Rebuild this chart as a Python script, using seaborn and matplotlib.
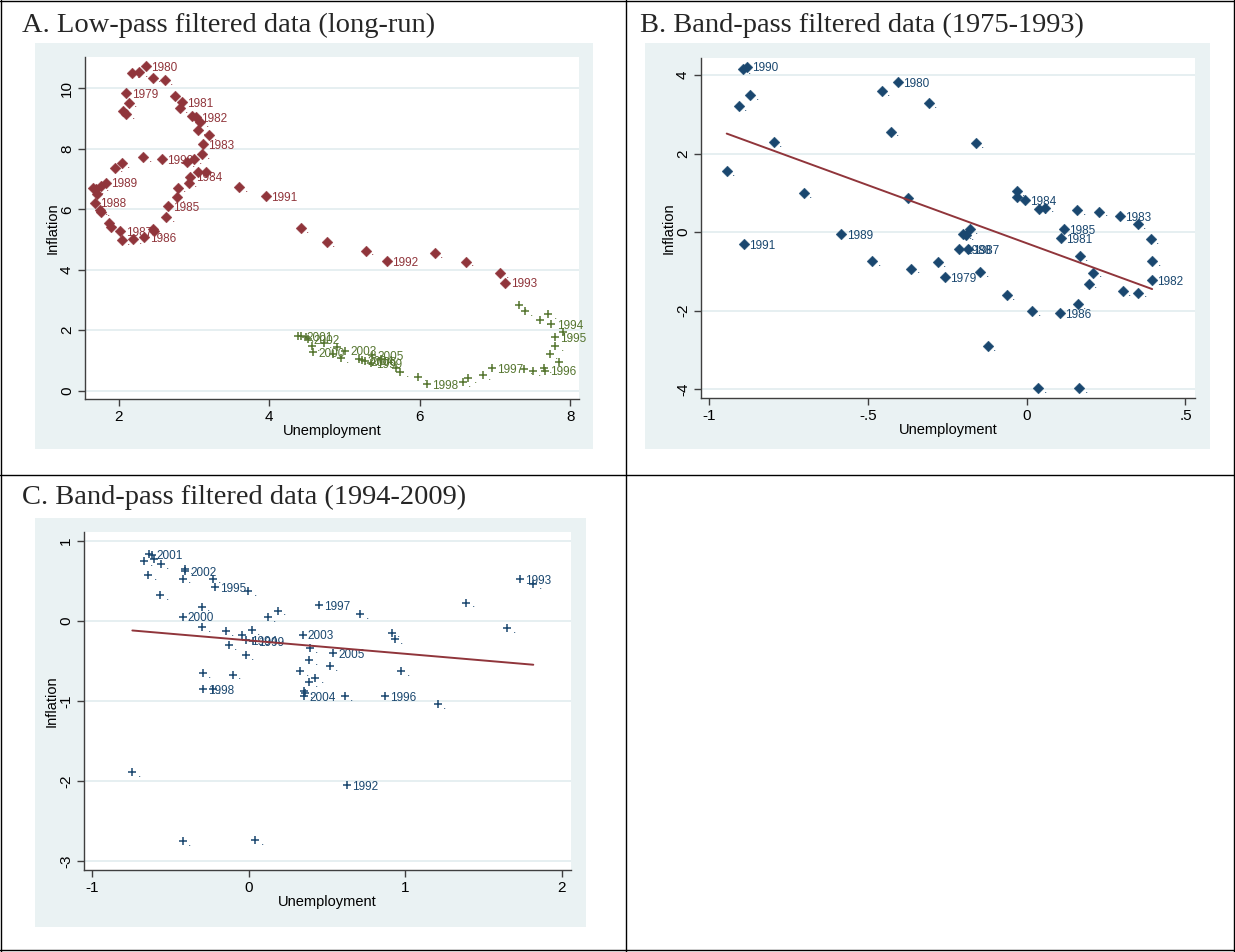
import matplotlib
matplotlib.use("Agg")
import matplotlib.pyplot as plt
from matplotlib.patches import Rectangle
from matplotlib.lines import Line2D
import seaborn as sns

sns.set_theme(style="white")
plt.rcParams["font.family"] = ["Liberation Sans", "DejaVu Sans"]

MAROON = "#90353B"
GREEN = "#55752F"
NAVY = "#1A476F"
BG = "#EAF2F3"
GRID = "#E4EEF0"
AXIS = "#3F3F3F"

# ---------------- Panel A: low-pass filtered data ----------------
# 1979-1993 (diamonds)
a1_unemp = [2.175, 2.276, 2.361, 2.458, 2.618, 2.104, 2.135, 2.06, 2.104, 2.746,
            2.843, 2.817, 2.98, 3.03, 3.086, 3.05, 3.20, 3.12, 3.11, 3.0,
            2.906, 2.58, 2.33, 2.046, 1.95, 3.05, 3.16, 2.954, 2.93, 2.79,
            2.777, 2.653, 2.635, 3.604, 3.955, 4.42, 4.77, 5.283, 5.56, 6.203,
            6.615, 7.07, 7.137, 1.83, 1.764, 1.70, 1.665, 1.71, 1.688, 1.754,
            1.77, 1.87, 1.896, 2.024, 2.046, 2.197, 2.343, 2.462, 2.467]
a1_infl = [10.51, 10.54, 10.74, 10.36, 10.27, 9.84, 9.53, 9.25, 9.15, 9.75,
           9.54, 9.34, 9.10, 9.06, 8.88, 8.63, 8.46, 8.16, 7.82, 7.66,
           7.56, 7.67, 7.72, 7.54, 7.38, 7.25, 7.25, 7.08, 6.88, 6.72,
           6.40, 6.11, 5.75, 6.74, 6.44, 5.39, 4.91, 4.63, 4.29, 4.55,
           4.27, 3.90, 3.57, 6.88, 6.78, 6.68, 6.70, 6.51, 6.22, 5.98,
           5.92, 5.56, 5.42, 5.29, 4.98, 5.01, 5.09, 5.35, 5.28]
a1_label = [".", ".", "1980", ".", ".", "1979", ".", ".", ".", ".",
            "1981", ".", ".", "1982", ".", ".", ".", "1983", ".", ".",
            ".", "1990", ".", ".", ".", ".", ".", "1984", ".", ".",
            ".", "1985", ".", ".", "1991", ".", ".", ".", "1992", ".",
            ".", ".", "1993", "1989", ".", ".", ".", ".", "1988", ".",
            ".", ".", ".", "1987", ".", ".", "1986", ".", "."]

# 1994-2009 (plus signs)
a2_unemp = [7.32, 7.40, 7.60, 7.71, 7.75, 7.91, 7.80, 7.80, 7.73, 7.85,
            7.66, 7.65, 7.50, 7.39, 6.956, 6.837, 6.645, 6.575, 6.10, 5.98,
            5.74, 5.68, 5.48, 5.35, 5.37, 5.28, 5.23, 5.19, 5.01, 4.95,
            4.90, 4.85, 4.73, 4.587, 4.566, 4.52, 4.486, 4.424, 4.38]
a2_infl = [2.82, 2.64, 2.33, 2.54, 2.20, 1.93, 1.76, 1.46, 1.20, 0.94,
           0.66, 0.74, 0.65, 0.72, 0.745, 0.51, 0.40, 0.29, 0.21, 0.46,
           0.60, 0.75, 1.03, 0.90, 1.18, 0.98, 1.00, 1.03, 1.32, 1.07,
           1.45, 1.20, 1.56, 1.28, 1.47, 1.70, 1.76, 1.79, 1.80]
a2_label = [".", ".", ".", ".", "1994", ".", "1995", ".", ".", ".",
            "1996", ".", ".", ".", "1997", ".", ".", ".", "1998", ".",
            ".", ".", ".", "1999", "2005", "2006", "2004", ".", "2003", ".",
            ".", ".", ".", "2000", ".", "2002", ".", "2001", "."]

# ---------------- Panel B: band-pass, 1975-1993 ----------------
b_unemp = [-0.895, -0.881, -0.871, -0.907, -0.797, -0.945, -0.702, -0.584, -0.892, -0.456,
           -0.405, -0.428, -0.308, -0.374, -0.486, -0.364, -0.281, -0.259, -0.16, -0.032,
           -0.032, -0.005, 0.038, 0.059, 0.159, 0.228, 0.293, 0.349, 0.391, 0.395,
           0.394, 0.303, 0.352, 0.118, 0.108, 0.168, 0.21, 0.196, 0.16, 0.104,
           0.018, -0.062, -0.146, -0.2, -0.192, -0.18, -0.212, -0.185, 0.036, 0.165,
           -0.122]
b_infl = [4.15, 4.21, 3.49, 3.20, 2.29, 1.56, 1.00, -0.05, -0.30, 3.59,
          3.81, 2.56, 3.29, 0.87, -0.74, -0.93, -0.77, -1.14, 2.26, 1.05,
          0.89, 0.81, 0.585, 0.626, 0.56, 0.52, 0.41, 0.20, -0.17, -0.74,
          -1.22, -1.50, -1.54, 0.075, -0.145, -0.60, -1.03, -1.31, -1.83, -2.07,
          -2.00, -1.60, -1.02, -0.04, -0.08, 0.08, -0.44, -0.44, -3.96, -3.96,
          -2.90]
b_label = [".", "1990", ".", ".", ".", ".", ".", "1989", "1991", ".",
           "1980", ".", ".", ".", ".", ".", ".", "1979", ".", ".",
           ".", "1984", ".", ".", ".", ".", "1983", ".", ".", ".",
           "1982", ".", ".", "1985", "1981", ".", ".", ".", ".", "1986",
           ".", ".", ".", ".", ".", ".", "1988", "1987", ".", ".",
           "."]

# ---------------- Panel C: band-pass, 1994-2009 ----------------
c_unemp = [-0.669, -0.637, -0.622, -0.607, -0.564, -0.643, -0.567, -0.409, -0.409, -0.424,
           -0.23, -0.217, -0.004, -0.302, -0.424, -0.298, -0.149, -0.13, -0.045, -0.021,
           0.017, -0.02, 0.024, 0.12, 0.185, -0.294, -0.102, -0.296, -0.232, 0.343,
           0.39, 0.385, 0.328, 0.385, 0.424, 0.353, 0.358, 0.353, 0.447, 0.711,
           0.518, 0.539, 0.613, 0.871, 0.914, 0.933, 0.973, 1.208, 1.389, 1.651,
           1.732, 1.817, -0.745, -0.424, 0.04, 0.628]
c_infl = [0.754, 0.84, 0.83, 0.775, 0.71, 0.57, 0.325, 0.65, 0.62, 0.53,
          0.53, 0.425, 0.37, 0.18, 0.055, -0.075, -0.125, -0.30, -0.175, -0.43,
          -0.11, -0.24, -0.25, 0.046, 0.13, -0.65, -0.67, -0.85, -0.85, -0.17,
          -0.34, -0.49, -0.625, -0.76, -0.71, -0.87, -0.90, -0.94, 0.20, 0.083,
          -0.56, -0.40, -0.94, -0.94, -0.145, -0.23, -0.625, -1.04, 0.23, -0.09,
          0.525, 0.46, -1.89, -2.75, -2.74, -2.05]
c_label = [".", ".", "2001", ".", ".", ".", ".", ".", "2002", ".",
           ".", "1995", ".", ".", "2000", ".", ".", ".", ".", ".",
           ".", "1994", "1999", ".", ".", ".", ".", "1998", ".", "2003",
           ".", ".", ".", ".", ".", ".", ".", "2004", "1997", ".",
           ".", "2005", ".", "1996", ".", ".", ".", ".", ".", ".",
           "1993", ".", ".", ".", ".", "1992"]

W, H = 1235, 952
fig = plt.figure(figsize=(W / 100, H / 100), dpi=100)
fig.patch.set_facecolor("white")


def px_rect(x0, y0, x1, y1):
    return [x0 / W, 1 - y1 / H, (x1 - x0) / W, (y1 - y0) / H]


# graph-region backgrounds
for x0, y0, x1, y1 in [(35, 43, 593, 449), (645, 43, 1210, 449), (35, 518, 586, 927)]:
    l, b, w, h = px_rect(x0, y0, x1, y1)
    fig.add_artist(Rectangle((l, b), w, h, transform=fig.transFigure,
                             facecolor=BG, edgecolor="none", zorder=-5))

axA = fig.add_axes(px_rect(85, 57, 579, 399))
axB = fig.add_axes(px_rect(701, 58, 1195, 398))
axC = fig.add_axes(px_rect(84, 532, 571, 870))


def label_points(ax, xs, ys, labels, color):
    for x, y, t in zip(xs, ys, labels):
        ax.annotate(t, (x, y), xytext=(3.8, -1.3), textcoords="offset points",
                    fontsize=8.5, color=color, ha="left", va="center", zorder=3)


def style(ax, xlim, ylim, xt, xtl, yt, ytl):
    ax.set_facecolor("white")
    ax.set_xlim(*xlim)
    ax.set_ylim(*ylim)
    ax.set_xticks(xt)
    ax.set_xticklabels(xtl)
    ax.set_yticks(yt)
    ax.set_yticklabels(ytl, rotation=90, va="center")
    ax.yaxis.grid(True, color=GRID, linewidth=1.3)
    ax.xaxis.grid(False)
    ax.set_axisbelow(True)
    for s in ["top", "right"]:
        ax.spines[s].set_visible(False)
    for s in ["left", "bottom"]:
        ax.spines[s].set_color(AXIS)
        ax.spines[s].set_linewidth(1.0)
    ax.tick_params(axis="both", direction="out", length=5, width=1.0,
                   color=AXIS, labelsize=11, labelcolor="black",
                   left=True, bottom=True, pad=3)
    ax.set_xlabel("Unemployment", fontsize=10.5, labelpad=0, color="black")
    ax.set_ylabel("Inflation", fontsize=10.5, labelpad=0, color="black")


# Panel A
sns.scatterplot(x=a1_unemp, y=a1_infl, marker="D", s=30, color=MAROON,
                edgecolor=MAROON, linewidth=0.3, ax=axA, zorder=4)
sns.scatterplot(x=a2_unemp, y=a2_infl, marker="+", s=34, color=GREEN,
                linewidth=1.1, ax=axA, zorder=4)
label_points(axA, a1_unemp, a1_infl, a1_label, MAROON)
label_points(axA, a2_unemp, a2_infl, a2_label, GREEN)
style(axA, (1.555, 8.116), (-0.28, 11.04), [2, 4, 6, 8], ["2", "4", "6", "8"],
      [0, 2, 4, 6, 8, 10], ["0", "2", "4", "6", "8", "10"])

# Panel B
sns.scatterplot(x=b_unemp, y=b_infl, marker="D", s=30, color=NAVY,
                edgecolor=NAVY, linewidth=0.3, ax=axB, zorder=4)
label_points(axB, b_unemp, b_infl, b_label, NAVY)
sns.regplot(x=b_unemp, y=b_infl, scatter=False, ci=None, truncate=True,
            color=MAROON, line_kws={"linewidth": 1.4, "zorder": 5}, ax=axB)
style(axB, (-1.026, 0.53), (-4.22, 4.43), [-1, -0.5, 0, 0.5], ["-1", "-.5", "0", ".5"],
      [-4, -2, 0, 2, 4], ["-4", "-2", "0", "2", "4"])

# Panel C
sns.scatterplot(x=c_unemp, y=c_infl, marker="+", s=34, color=NAVY,
                linewidth=1.1, ax=axC, zorder=4)
label_points(axC, c_unemp, c_infl, c_label, NAVY)
sns.regplot(x=c_unemp, y=c_infl, scatter=False, ci=None, truncate=True,
            color=MAROON, line_kws={"linewidth": 1.4, "zorder": 5}, ax=axC)
style(axC, (-1.054, 2.058), (-3.11, 1.1125), [-1, 0, 1, 2], ["-1", "0", "1", "2"],
      [-3, -2, -1, 0, 1], ["-3", "-2", "-1", "0", "1"])

# panel titles
serif = ["Liberation Serif", "DejaVu Serif"]
fig.text(22 / W, 1 - 25 / H, "A. Low-pass filtered data (long-run)",
         family=serif, fontsize=20.5, va="center", ha="left")
fig.text(640 / W, 1 - 25 / H, "B. Band-pass filtered data (1975-1993)",
         family=serif, fontsize=20.5, va="center", ha="left")
fig.text(22 / W, 1 - 497 / H, "C. Band-pass filtered data (1994-2009)",
         family=serif, fontsize=20.5, va="center", ha="left")

# table frame
frame = [((1, 1), (0, H)), ((W - 1, W - 1), (0, H)), ((0, W), (1, 1)),
         ((0, W), (H - 2, H - 2)), ((626, 626), (0, H)), ((0, W), (475, 475))]
for xs, ys in frame:
    fig.add_artist(Line2D([x / W for x in xs], [1 - y / H for y in ys],
                          transform=fig.transFigure, color="black",
                          linewidth=1.0, zorder=10))

fig.savefig("out.png", dpi=100)
